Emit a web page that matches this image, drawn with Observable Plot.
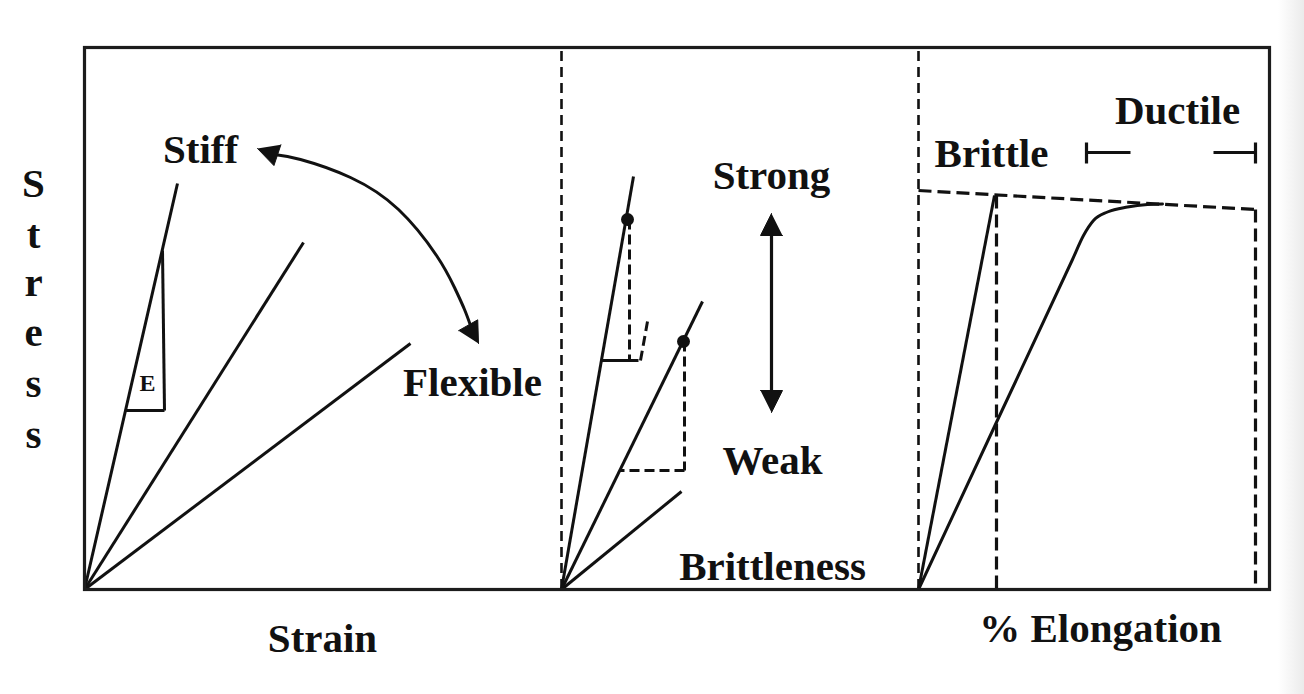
<!DOCTYPE html>
<html>
<head>
<meta charset="utf-8">
<script src="https://cdn.jsdelivr.net/npm/d3@7"></script>
<script src="https://cdn.jsdelivr.net/npm/@observablehq/plot@0.6"></script>
<style>
  html, body { margin: 0; padding: 0; background: #fff; }
  body { width: 1304px; height: 694px; overflow: hidden; position: relative; }
  #strip { position: absolute; right: 0; top: 0; width: 26px; height: 694px;
           background: linear-gradient(to right, rgba(255,255,255,0), #ebebeb); }
</style>
</head>
<body>
<div id="chart"></div>
<div id="strip"></div>
<script>
// Schematic units: x = strain (per panel offset), y = stress. 1 unit ≈ 1 px.

// ---- Panel 1: stiffness (modulus) lines from the origin
const modulusLines = [
  {id: "stiff",    x1: 0, y1: 0, x2: 93,  y2: 406},
  {id: "medium",   x1: 0, y1: 0, x2: 219, y2: 347},
  {id: "flexible", x1: 0, y1: 0, x2: 326, y2: 246}
];
// slope triangle "E"
const slopeTriangle = [
  {x1: 78, y1: 339, x2: 80, y2: 179},
  {x1: 80, y1: 179, x2: 41, y2: 179}
];
// curved double arrow Stiff <-> Flexible
const bendArrowPath = [
  {x: 190, y: 435}, {x: 216, y: 430}, {x: 266, y: 412}, {x: 314, y: 380},
  {x: 352, y: 334}, {x: 370, y: 302}, {x: 380, y: 280}, {x: 386, y: 264}
];

// ---- Panel 2: strength / brittleness
const strengthLines = [
  {id: "strong", x1: 477, y1: 0, x2: 549, y2: 413},
  {id: "weak",   x1: 477, y1: 0, x2: 618, y2: 288},
  {id: "low",    x1: 477, y1: 0, x2: 597, y2: 98}
];
const breakPoints = [
  {x: 543, y: 370},
  {x: 599, y: 248}
];
const strengthSolid = [
  {x1: 517, y1: 229, x2: 554, y2: 229}
];
const strengthDashed = [
  {x1: 545, y1: 370, x2: 545, y2: 229},
  {x1: 556, y1: 229, x2: 563, y2: 268},
  {x1: 600, y1: 248, x2: 600, y2: 119},
  {x1: 600, y1: 119, x2: 535, y2: 119}
];
const strengthArrow = [{x1: 687, y1: 190, x2: 687, y2: 363}];

// ---- Panel 3: % elongation (brittle vs ductile)
const brittleLine = [{x1: 834, y1: 0, x2: 910, y2: 394}];
const ductileCurve = [
  {x: 834, y: 0}, {x: 910, y: 163}, {x: 988, y: 330}, {x: 999, y: 354},
  {x: 1009, y: 369}, {x: 1023, y: 377.5}, {x: 1043, y: 382.5}, {x: 1063, y: 385},
  {x: 1078, y: 385.5}
];
const elongationDashed = [
  {x1: 834,  y1: 399, x2: 1171, y2: 380},
  {x1: 1171, y1: 380, x2: 1171, y2: 0},
  {x1: 912,  y1: 394, x2: 912,  y2: 0}
];
const ductileRange = [
  {x1: 1002, y1: 437, x2: 1046, y2: 437},
  {x1: 1129, y1: 437, x2: 1171, y2: 437},
  {x1: 1002, y1: 426, x2: 1002, y2: 447},
  {x1: 1171, y1: 426, x2: 1171, y2: 447}
];

// ---- Panel dividers
const dividers = [477, 834];

// ---- Arrow heads: tip and direction
const arrowTips = [
  {x: 173, y: 441, dx: -18, dy: 6,   len: 21, half: 11},
  {x: 394, y: 246, dx: 26,  dy: -46, len: 21, half: 11},
  {x: 687, y: 376, dx: 0,   dy: 1,   len: 22, half: 11},
  {x: 687, y: 177, dx: 0,   dy: -1,  len: 22, half: 11}
];

// ---- Labels
const labels = [
  {text: "Stiff",       x: 116,  y: 427},
  {text: "Flexible",    x: 388,  y: 194},
  {text: "Strong",      x: 687,  y: 401},
  {text: "Weak",        x: 688,  y: 116},
  {text: "Brittleness", x: 688,  y: 10},
  {text: "Brittle",     x: 907,  y: 423},
  {text: "Ductile",     x: 1093, y: 466}
];
const modulusLabel = [{text: "E", x: 63, y: 199}];
const xTitles = [
  {text: "Strain",       x: 238,  y: -62},
  {text: "% Elongation", x: 1016, y: -52}
];
const stressLetters = ["S", "t", "r", "e", "s", "s"];
const stressBaselines = [393, 342, 294, 244, 193, 142];

// derived: arrow-head triangles
const heads = arrowTips.flatMap((d, i) => {
  const n = Math.hypot(d.dx, d.dy), ux = d.dx / n, uy = d.dy / n;
  const bx = d.x - ux * d.len, by = d.y - uy * d.len;
  return [
    {id: i, x: d.x, y: d.y},
    {id: i, x: bx - uy * d.half, y: by + ux * d.half},
    {id: i, x: bx + uy * d.half, y: by - ux * d.half}
  ];
});
const stressTitle = stressLetters.map((t, i) => ({text: t, x: -51, y: stressBaselines[i]}));

const INK = "#111";
const SW = 3;
const font = "'Liberation Serif', 'Times New Roman', serif";

const chart = Plot.plot({
  width: 1304,
  height: 694,
  marginLeft: 84,
  marginRight: 35,
  marginTop: 47,
  marginBottom: 105,
  x: {domain: [0, 1185], axis: null},
  y: {domain: [0, 542], axis: null},
  style: {fontFamily: font, background: "#fff"},
  marks: [
    // dividers
    Plot.ruleX(dividers, {x: d => d, y1: 0, y2: 542, stroke: INK, strokeWidth: 2.6, strokeDasharray: "10,6"}),
    // panel 1
    Plot.link(modulusLines, {x1: "x1", y1: "y1", x2: "x2", y2: "y2", stroke: INK, strokeWidth: SW}),
    Plot.link(slopeTriangle, {x1: "x1", y1: "y1", x2: "x2", y2: "y2", stroke: INK, strokeWidth: SW}),
    Plot.line(bendArrowPath, {x: "x", y: "y", curve: "natural", stroke: INK, strokeWidth: SW}),
    // panel 2
    Plot.link(strengthLines, {x1: "x1", y1: "y1", x2: "x2", y2: "y2", stroke: INK, strokeWidth: SW}),
    Plot.link(strengthSolid, {x1: "x1", y1: "y1", x2: "x2", y2: "y2", stroke: INK, strokeWidth: SW}),
    Plot.link(strengthDashed, {x1: "x1", y1: "y1", x2: "x2", y2: "y2", stroke: INK, strokeWidth: SW, strokeDasharray: "10,5"}),
    Plot.link(strengthArrow, {x1: "x1", y1: "y1", x2: "x2", y2: "y2", stroke: INK, strokeWidth: 3.2}),
    Plot.dot(breakPoints, {x: "x", y: "y", r: 6.5, fill: INK}),
    // panel 3
    Plot.link(brittleLine, {x1: "x1", y1: "y1", x2: "x2", y2: "y2", stroke: INK, strokeWidth: SW}),
    Plot.line(ductileCurve, {x: "x", y: "y", curve: "monotone-x", stroke: INK, strokeWidth: SW}),
    Plot.link(elongationDashed, {x1: "x1", y1: "y1", x2: "x2", y2: "y2", stroke: INK, strokeWidth: 3.2, strokeDasharray: "13,6"}),
    Plot.link(ductileRange, {x1: "x1", y1: "y1", x2: "x2", y2: "y2", stroke: INK, strokeWidth: 3.2}),
    // arrow heads
    Plot.line(heads, {x: "x", y: "y", z: "id", fill: INK, stroke: INK, strokeWidth: 1, strokeLinejoin: "miter"}),
    // frame
    Plot.frame({stroke: "#1c1c1c", strokeWidth: 3.2}),
    // labels
    Plot.text(labels, {x: "x", y: "y", text: "text", fontSize: 41, fontWeight: "bold", lineAnchor: "bottom", textAnchor: "middle", fill: INK}),
    Plot.text(modulusLabel, {x: "x", y: "y", text: "text", fontSize: 24, fontWeight: "bold", lineAnchor: "bottom", textAnchor: "middle", fill: INK}),
    Plot.text(xTitles, {x: "x", y: "y", text: "text", fontSize: 41, fontWeight: "bold", lineAnchor: "bottom", textAnchor: "middle", fill: INK}),
    Plot.text(stressTitle, {x: "x", y: "y", text: "text", fontSize: 41, fontWeight: "bold", lineAnchor: "bottom", textAnchor: "middle", fill: INK})
  ]
});
document.getElementById("chart").appendChild(chart);
</script>
</body>
</html>
